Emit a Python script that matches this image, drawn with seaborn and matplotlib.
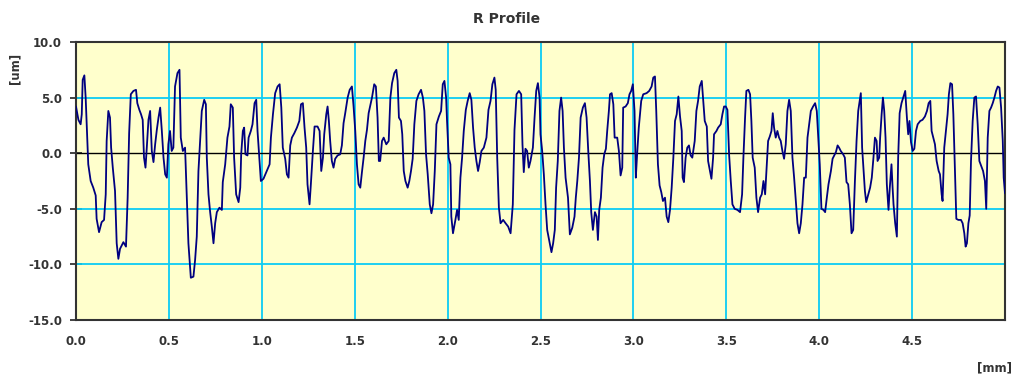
import numpy as np
import pandas as pd
import matplotlib
matplotlib.use("Agg")
import matplotlib.pyplot as plt
import seaborn as sns

# R profile in six stretches: x in mm, r in um
x_seg1 = [0.000, 0.013, 0.025, 0.031, 0.036, 0.045, 0.052, 0.057, 0.066, 0.079,
          0.093, 0.106, 0.111, 0.124, 0.138, 0.151, 0.160, 0.165, 0.174, 0.183,
          0.189, 0.198, 0.210, 0.219, 0.228, 0.237, 0.255, 0.269, 0.278, 0.286,
          0.295, 0.309, 0.323, 0.330, 0.341, 0.350, 0.359, 0.366, 0.374, 0.381,
          0.390, 0.399, 0.408, 0.417, 0.426, 0.435, 0.444, 0.453, 0.462, 0.471,
          0.480, 0.489, 0.497, 0.506, 0.515, 0.524, 0.533, 0.546, 0.557, 0.564,
          0.575, 0.587, 0.596, 0.605, 0.618, 0.632, 0.641, 0.650, 0.659, 0.677,
          0.690, 0.699, 0.704, 0.713, 0.722, 0.731, 0.740, 0.749, 0.758, 0.772,
          0.785]
r_seg1 = [4.2, 3.0, 2.6, 3.5, 6.6, 7.0, 5.0, 2.9, -1.0, -2.5,
          -3.1, -3.8, -5.9, -7.1, -6.2, -6.0, -3.7, 1.1, 3.8, 3.2,
          0.5, -1.3, -3.4, -8.1, -9.5, -8.6, -8.0, -8.4, -4.0, 1.8,
          5.3, 5.6, 5.7, 4.5, 3.9, 3.5, 3.0, -0.4, -1.3, 0.5,
          3.0, 3.8, 0.2, -0.8, 0.8, 2.1, 3.2, 4.1, 2.0, -0.4,
          -1.9, -2.2, 0.8, 2.0, 0.2, 0.5, 6.0, 7.2, 7.5, 1.4,
          0.2, 0.5, -3.7, -8.1, -11.2, -11.1, -9.6, -7.5, -1.6, 3.8,
          4.8, 4.4, -0.4, -3.7, -5.3, -6.6, -8.1, -6.3, -5.3, -4.9,
          -5.1]

x_seg2 = [0.790, 0.803, 0.815, 0.826, 0.833, 0.844, 0.851, 0.862, 0.875, 0.884,
          0.889, 0.898, 0.905, 0.912, 0.923, 0.929, 0.941, 0.950, 0.961, 0.970,
          0.977, 0.988, 0.995, 1.009, 1.027, 1.042, 1.049, 1.060, 1.072, 1.085,
          1.096, 1.105, 1.113, 1.126, 1.135, 1.144, 1.153, 1.162, 1.175, 1.189,
          1.202, 1.211, 1.221, 1.230, 1.239, 1.246, 1.257, 1.264, 1.275, 1.284,
          1.300, 1.311, 1.320, 1.329, 1.336, 1.347, 1.354, 1.361, 1.368, 1.377,
          1.386, 1.395, 1.408, 1.422, 1.431, 1.440, 1.449, 1.462, 1.473, 1.485,
          1.494, 1.503, 1.512, 1.521, 1.530, 1.539, 1.548, 1.557, 1.566, 1.575,
          1.593, 1.605, 1.614, 1.623, 1.630, 1.637]
r_seg2 = [-2.6, -1.0, 1.4, 2.4, 4.4, 4.1, -0.4, -3.7, -4.4, -3.1,
          -0.1, 2.0, 2.3, -0.1, -0.2, 1.4, 2.0, 2.6, 4.5, 4.8,
          2.0, -0.8, -2.5, -2.3, -1.6, -1.0, 1.4, 3.5, 5.4, 6.0,
          6.2, 4.1, 0.5, -0.5, -1.9, -2.2, 0.7, 1.4, 1.8, 2.3,
          2.9, 4.4, 4.5, 2.3, 0.5, -2.8, -4.6, -2.8, 0.2, 2.4,
          2.4, 2.0, -1.6, -0.4, 1.7, 3.5, 4.2, 2.9, 1.1, -0.7,
          -1.3, -0.5, -0.2, -0.1, 0.7, 2.7, 3.6, 5.0, 5.7, 6.0,
          4.2, 2.0, -1.0, -2.8, -3.1, -1.7, -0.4, 1.1, 2.1, 3.6,
          5.0, 6.2, 6.0, 3.2, -0.7, -0.7]

x_seg3 = [1.647, 1.656, 1.670, 1.683, 1.692, 1.701, 1.713, 1.724, 1.731, 1.738,
          1.749, 1.756, 1.764, 1.773, 1.785, 1.794, 1.803, 1.812, 1.821, 1.832,
          1.844, 1.857, 1.867, 1.875, 1.884, 1.893, 1.904, 1.913, 1.922, 1.931,
          1.940, 1.953, 1.965, 1.974, 1.983, 1.992, 1.997, 2.006, 2.015, 2.020,
          2.029, 2.042, 2.051, 2.060, 2.069, 2.078, 2.087, 2.098, 2.108, 2.119,
          2.128, 2.137, 2.146, 2.155, 2.164, 2.173, 2.182, 2.195, 2.209, 2.220,
          2.231, 2.241, 2.252, 2.259, 2.267, 2.276, 2.285, 2.299, 2.312, 2.326,
          2.339, 2.351, 2.360, 2.371, 2.384, 2.396, 2.403, 2.410, 2.419, 2.428,
          2.437, 2.446, 2.459, 2.468, 2.477, 2.486, 2.495]
r_seg3 = [1.1, 1.4, 0.8, 1.1, 5.0, 6.3, 7.2, 7.5, 6.5, 3.2,
          2.9, 1.7, -1.6, -2.5, -3.1, -2.5, -1.6, -0.5, 2.6, 4.7,
          5.3, 5.7, 5.0, 3.8, -0.1, -1.9, -4.6, -5.4, -4.6, -1.6,
          2.6, 3.3, 3.8, 6.2, 6.5, 5.0, 2.9, -0.4, -1.0, -5.7,
          -7.2, -6.0, -5.1, -6.0, -2.2, -0.4, 2.0, 3.9, 4.7, 5.4,
          4.8, 2.3, 0.5, -0.7, -1.6, -0.8, 0.2, 0.5, 1.4, 3.9,
          4.7, 6.2, 6.8, 5.7, -0.4, -4.9, -6.3, -6.0, -6.3, -6.6,
          -7.2, -4.6, 2.1, 5.3, 5.6, 5.3, 0.8, -1.7, 0.4, 0.2,
          -1.3, -0.7, 0.5, 3.2, 5.6, 6.3, 5.0]

x_seg4 = [2.500, 2.509, 2.518, 2.527, 2.536, 2.550, 2.559, 2.568, 2.577, 2.584,
          2.593, 2.602, 2.611, 2.619, 2.626, 2.635, 2.648, 2.658, 2.671, 2.683,
          2.690, 2.698, 2.707, 2.716, 2.728, 2.739, 2.748, 2.757, 2.766, 2.773,
          2.782, 2.793, 2.802, 2.809, 2.816, 2.825, 2.834, 2.843, 2.852, 2.859,
          2.868, 2.874, 2.883, 2.892, 2.899, 2.913, 2.922, 2.931, 2.940, 2.945,
          2.958, 2.970, 2.979, 2.988, 2.997, 3.006, 3.013, 3.020, 3.029, 3.042,
          3.053, 3.071, 3.085, 3.098, 3.107, 3.116, 3.123, 3.132, 3.141, 3.150,
          3.159, 3.170, 3.179, 3.188, 3.197, 3.206, 3.215, 3.224, 3.233, 3.242,
          3.251, 3.260, 3.265, 3.272, 3.281, 3.290, 3.299, 3.308, 3.317, 3.330,
          3.339, 3.348, 3.357, 3.368]
r_seg4 = [1.7, 0.2, -1.9, -4.6, -6.9, -8.1, -8.9, -8.1, -6.9, -3.1,
          -0.7, 3.8, 5.0, 3.8, 0.5, -2.2, -4.0, -7.3, -6.7, -5.7,
          -4.0, -2.5, -0.4, 3.2, 4.1, 4.5, 3.2, 0.2, -2.5, -5.3,
          -6.9, -5.3, -5.7, -7.8, -5.1, -4.0, -1.3, -0.1, 0.4, 2.0,
          3.8, 5.3, 5.4, 4.4, 1.4, 1.4, 0.2, -2.0, -1.3, 4.1,
          4.2, 4.5, 5.3, 5.6, 6.2, 3.8, -2.2, -0.1, 2.3, 4.7,
          5.3, 5.4, 5.6, 6.0, 6.8, 6.9, 3.8, -1.0, -2.9, -3.5,
          -4.3, -4.0, -5.7, -6.2, -5.1, -3.1, -0.4, 2.9, 3.5, 5.1,
          3.3, 2.0, -2.2, -2.6, -0.4, 0.5, 0.7, -0.2, -0.4, 1.1,
          3.8, 4.7, 6.0, 6.5]

x_seg5 = [3.384, 3.395, 3.402, 3.412, 3.420, 3.429, 3.434, 3.447, 3.456, 3.470,
          3.479, 3.488, 3.497, 3.506, 3.515, 3.524, 3.533, 3.545, 3.560, 3.574,
          3.585, 3.592, 3.601, 3.608, 3.619, 3.628, 3.635, 3.642, 3.653, 3.662,
          3.671, 3.682, 3.691, 3.700, 3.709, 3.716, 3.725, 3.734, 3.743, 3.750,
          3.757, 3.766, 3.775, 3.784, 3.793, 3.802, 3.811, 3.820, 3.829, 3.838,
          3.847, 3.856, 3.865, 3.874, 3.883, 3.892, 3.901, 3.910, 3.919, 3.928,
          3.937, 3.946, 3.955, 3.967, 3.978, 3.987, 3.996, 4.003, 4.012, 4.023,
          4.032, 4.041, 4.050, 4.063, 4.072, 4.081, 4.090, 4.099, 4.107, 4.116,
          4.129, 4.138, 4.147, 4.156, 4.165, 4.174, 4.183, 4.192, 4.201, 4.210,
          4.221]
r_seg5 = [2.9, 2.4, -0.7, -1.6, -2.3, -0.4, 1.7, 2.0, 2.3, 2.6,
          3.5, 4.2, 4.2, 3.9, -0.1, -2.5, -4.6, -5.0, -5.1, -5.3,
          -3.7, -0.4, 3.2, 5.6, 5.7, 5.3, 2.9, -0.4, -1.3, -4.0,
          -5.3, -4.0, -3.7, -2.5, -3.7, -1.6, 1.1, 1.5, 2.0, 3.6,
          2.3, 1.4, 2.0, 1.4, 1.1, 0.2, -0.5, 0.8, 3.8, 4.8,
          3.8, -0.4, -2.2, -4.3, -6.3, -7.2, -6.3, -4.6, -2.2, -2.2,
          1.4, 2.6, 3.8, 4.2, 4.5, 3.8, 1.1, -1.0, -5.0, -5.1,
          -5.3, -4.0, -2.8, -1.6, -0.5, -0.2, 0.1, 0.7, 0.5, 0.2,
          -0.1, -0.4, -2.6, -2.8, -4.6, -7.2, -6.9, -2.6, 1.1, 3.8,
          5.1]

x_seg6 = [4.224, 4.231, 4.239, 4.246, 4.253, 4.264, 4.274, 4.283, 4.292, 4.300,
          4.309, 4.314, 4.323, 4.328, 4.336, 4.343, 4.350, 4.357, 4.364, 4.373,
          4.380, 4.389, 4.395, 4.400, 4.409, 4.418, 4.425, 4.433, 4.443, 4.452,
          4.463, 4.472, 4.479, 4.486, 4.494, 4.503, 4.512, 4.521, 4.530, 4.544,
          4.556, 4.569, 4.580, 4.589, 4.598, 4.605, 4.614, 4.623, 4.632, 4.643,
          4.650, 4.659, 4.664, 4.673, 4.682, 4.691, 4.698, 4.706, 4.715, 4.722,
          4.731, 4.738, 4.749, 4.763, 4.772, 4.781, 4.788, 4.795, 4.803, 4.810,
          4.817, 4.826, 4.835, 4.844, 4.853, 4.862, 4.871, 4.882, 4.892, 4.899,
          4.907, 4.916, 4.925, 4.934, 4.943, 4.952, 4.961, 4.970, 4.979, 4.988,
          4.993, 5.000]
r_seg6 = [5.4, 0.5, -1.6, -3.4, -4.4, -3.7, -3.1, -2.2, -0.4, 1.4,
          1.1, -0.7, -0.4, 1.4, 3.5, 5.0, 3.8, 1.4, -2.8, -5.1,
          -3.1, -1.0, -3.1, -4.6, -6.3, -7.5, -0.4, 3.6, 4.5, 5.0,
          5.6, 3.2, 1.7, 2.9, 1.0, 0.2, 0.4, 2.0, 2.6, 2.9,
          3.0, 3.3, 3.8, 4.5, 4.7, 2.0, 1.4, 0.8, -0.7, -1.6,
          -1.9, -3.7, -4.3, 0.5, 2.0, 3.5, 5.3, 6.3, 6.2, 3.5,
          -1.9, -5.9, -6.0, -6.0, -6.3, -7.2, -8.4, -8.1, -6.3, -5.6,
          -0.7, 2.9, 5.0, 5.1, 2.6, -0.7, -1.1, -1.6, -2.5, -5.0,
          1.4, 3.8, 4.1, 4.5, 5.0, 5.6, 6.0, 5.9, 4.1, 1.1,
          -2.2, -3.6]

x_ticks = [0.0, 0.5, 1.0, 1.5, 2.0, 2.5, 3.0, 3.5, 4.0, 4.5]
y_ticks = [-15.0, -10.0, -5.0, 0.0, 5.0, 10.0]

df = pd.DataFrame({
    "x": x_seg1 + x_seg2 + x_seg3 + x_seg4 + x_seg5 + x_seg6,
    "r": r_seg1 + r_seg2 + r_seg3 + r_seg4 + r_seg5 + r_seg6,
})

sns.set_style("white")
plt.rcParams["font.family"] = ["DejaVu Sans"]

fig = plt.figure(figsize=(10.14, 3.78), dpi=100)
ax = fig.add_axes([76 / 1014, 1 - 320 / 378, (1005 - 76) / 1014, (320 - 42) / 378])
ax.set_facecolor("#FFFFCC")

# grid first, then zero line, then the profile
for xv in x_ticks[1:]:
    ax.axvline(xv, color="#0CCCF4", lw=1.3, zorder=1)
for yv in y_ticks:
    if yv != 0.0:
        ax.axhline(yv, color="#0CCCF4", lw=1.3, zorder=1)
ax.axhline(0.0, color="black", lw=1.0, zorder=2)

sns.lineplot(data=df, x="x", y="r", ax=ax, color="#000080", lw=1.3,
             estimator=None, sort=False, zorder=3)

ax.set_xlim(0, 5.0)
ax.set_ylim(-15, 10)
ax.set_xticks(x_ticks)
ax.set_yticks(y_ticks)
ax.set_xticklabels([f"{v:.1f}" for v in x_ticks])
ax.set_yticklabels([f"{v:.1f}" for v in y_ticks])
ax.set_xlabel("")
ax.set_ylabel("")
ax.tick_params(axis="x", length=0, pad=11, labelsize=8.5, labelcolor="#333333")
ax.tick_params(axis="y", direction="inout", length=8, width=1.2, color="#222222",
               pad=6, labelsize=8.5, labelcolor="#333333", left=True)
for lab in ax.get_xticklabels() + ax.get_yticklabels():
    lab.set_fontweight("bold")

for side in ["left", "right", "top", "bottom"]:
    ax.spines[side].set_visible(True)
    ax.spines[side].set_color("#333333")
    ax.spines[side].set_linewidth(1.5)

fig.text(0.5, 1 - 19 / 378, "R Profile", ha="center", va="center",
         fontsize=10, fontweight="bold", color="#333333")
fig.text(15 / 1014, 1 - 68 / 378, "[um]", ha="center", va="center",
         rotation=90, fontsize=8.5, fontweight="bold", color="#333333")
fig.text(994 / 1014, 1 - 368 / 378, "[mm]", ha="center", va="center",
         fontsize=8.5, fontweight="bold", color="#333333")

fig.savefig("out.png", dpi=100, facecolor="white")
